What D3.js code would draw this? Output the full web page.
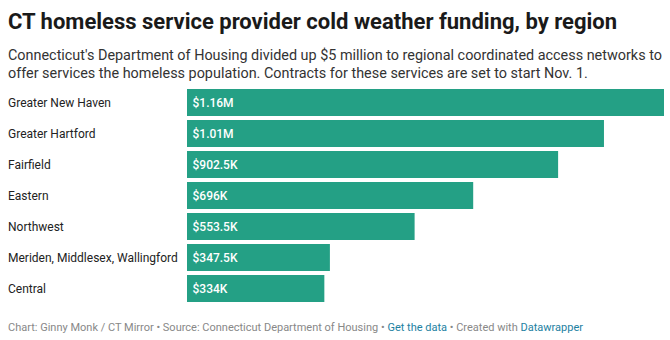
<!DOCTYPE html>
<html><head><meta charset="utf-8">
<script src="https://cdn.jsdelivr.net/npm/d3@7"></script>
<style>
body{margin:0;background:#fff;font-family:Roboto,sans-serif;}
</style></head><body>
<svg id="c" width="670" height="340"></svg>
<script>
const categories = ["Greater New Haven","Greater Hartford","Fairfield","Eastern","Northwest","Meriden, Middlesex, Wallingford","Central"];
const values = [1160000, 1014000, 902500, 696000, 553500, 347500, 334000];
const valueLabels = ["$1.16M","$1.01M","$902.5K","$696K","$553.5K","$347.5K","$334K"];

const svg = d3.select("#c");
svg.append("text").attr("x",8).attr("y",29).attr("font-size",22).attr("font-weight",700).attr("fill","#1a1a1a")
  .text("CT homeless service provider cold weather funding, by region");
const sub = ["Connecticut's Department of Housing divided up $5 million to regional coordinated access networks to",
 "offer services the homeless population. Contracts for these services are set to start Nov. 1."];
sub.forEach((s,i)=>svg.append("text").attr("x",8).attr("y",59.5+i*18).attr("font-size",14.4).attr("fill","#333").text(s));

const x = d3.scaleLinear().domain([0, 1160000]).range([187, 664]);
const y = d3.scaleBand().domain(categories).range([89, 302]).paddingInner(4/31).paddingOuter(0);

const g = svg.append("g");
g.selectAll("rect").data(categories).join("rect")
  .attr("x", x(0)).attr("y", d=>y(d)).attr("height", y.bandwidth())
  .attr("width", (d,i)=>x(values[i])-x(0)).attr("fill","#24a085");
g.selectAll("text.cat").data(categories).join("text").attr("class","cat")
  .attr("x",8).attr("y",d=>y(d)+y.bandwidth()/2).attr("dy","0.35em")
  .attr("font-size",12).attr("fill","#222").text(d=>d);
g.selectAll("text.val").data(categories).join("text").attr("class","val")
  .attr("x",x(0)+5.5).attr("y",d=>y(d)+y.bandwidth()/2).attr("dy","0.35em")
  .attr("font-size",12).attr("font-weight",500).attr("fill","#fff").text((d,i)=>valueLabels[i]);

const foot = svg.append("text").attr("x",8).attr("y",331).attr("font-size",11).attr("fill","#888");
foot.append("tspan").text("Chart: Ginny Monk / CT Mirror • Source: Connecticut Department of Housing • ");
foot.append("tspan").attr("fill","#1d81a2").text("Get the data");
foot.append("tspan").text(" • Created with ");
foot.append("tspan").attr("fill","#1d81a2").text("Datawrapper");
</script></body></html>
